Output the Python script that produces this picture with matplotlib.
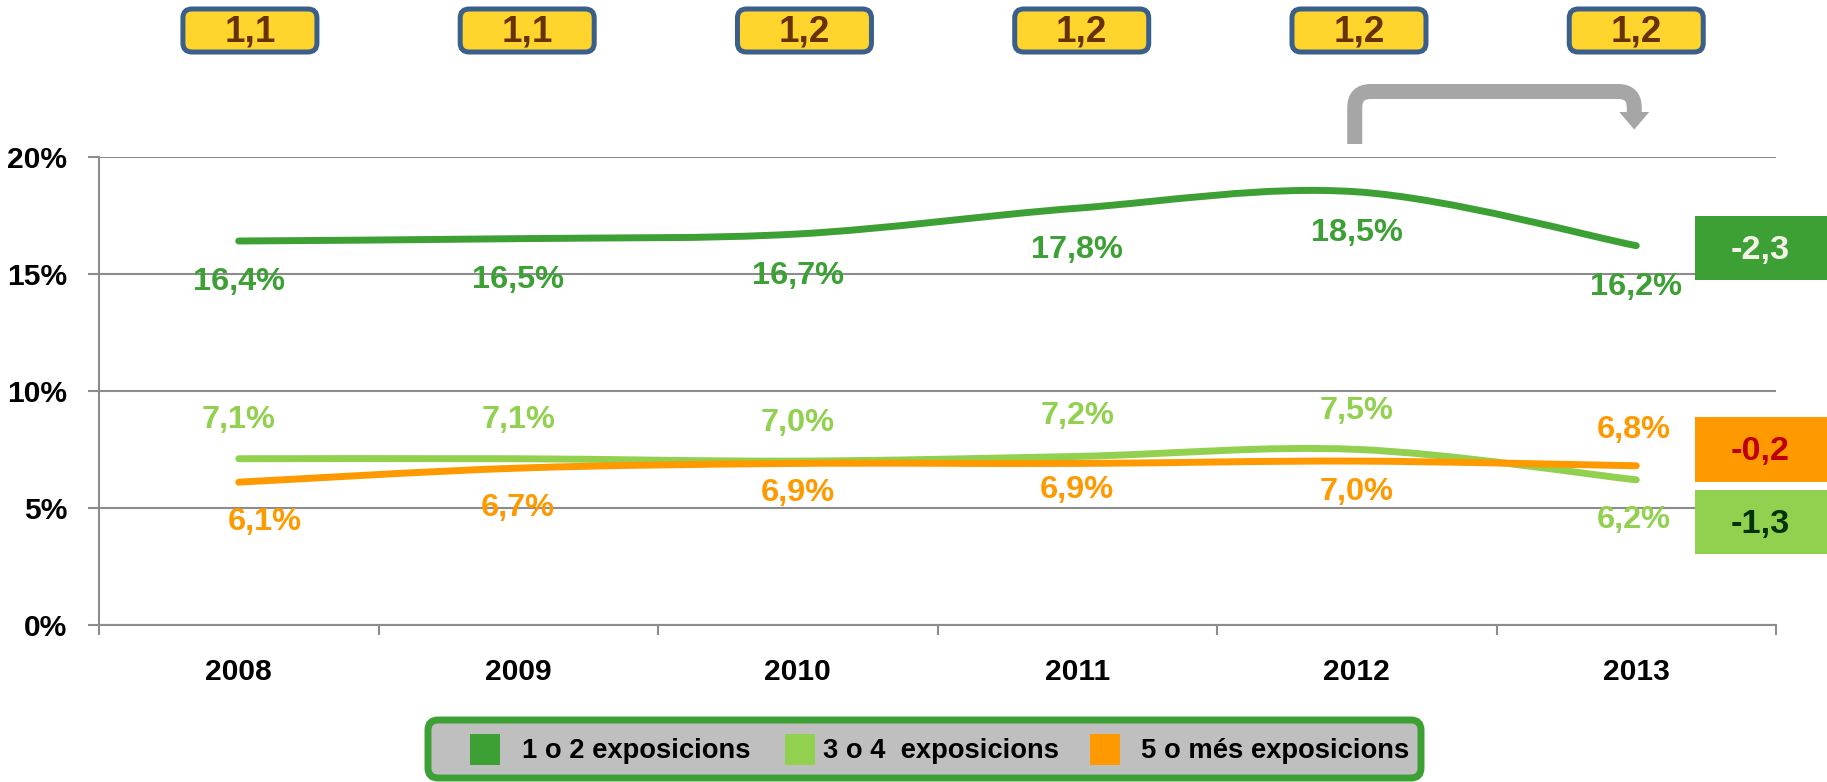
import numpy as np
import matplotlib
matplotlib.use('Agg')
import matplotlib.pyplot as plt
from matplotlib import font_manager
from matplotlib.path import Path
from matplotlib.patches import PathPatch, FancyBboxPatch, Rectangle, Polygon
from matplotlib.transforms import Affine2D

# data
years = ['2008', '2009', '2010', '2011', '2012', '2013']
exp_1_2 = [16.4, 16.5, 16.7, 17.8, 18.5, 16.2]
exp_3_4 = [7.1, 7.1, 7.0, 7.2, 7.5, 6.2]
exp_5_mes = [6.1, 6.7, 6.9, 6.9, 7.0, 6.8]
ratio_top = ['1,1', '1,1', '1,2', '1,2', '1,2', '1,2']
diff_labels = ['-2,3', '-0,2', '-1,3']
series_names = ['1 o 2 exposicions', '3 o 4  exposicions', '5 o més exposicions']

c_dark = '#3DA035'
c_light = '#92D050'
c_orange = '#FF9900'
grid_c = '#8C8C8C'

# narrow font if there is one, else Arial-like Liberation Sans a bit smaller
names = {f.name for f in font_manager.fontManager.ttflist}
if 'Liberation Sans Narrow' in names:
    FONT = ['Liberation Sans Narrow', 'DejaVu Sans']
    k = 1.0
    kl = 1.0
else:
    FONT = ['Liberation Sans', 'DejaVu Sans']
    k = 0.9
    kl = 0.82

# label offsets in pixels (x, y)
off_1 = [(0, -41), (0, -41), (0, -42), (0, -42), (0, -41), (0, -41)]
off_2 = [(0, 39), (0, 39), (0, 38), (0, 40), (0, 38), (-3, -40)]
off_3 = [(26, -40), (0, -40), (0, -30), (0, -27), (0, -31), (-3, 36)]

W, H = 1827, 782
fig = plt.figure(figsize=(W / 100, H / 100), dpi=100)
ax = fig.add_axes([99 / W, 1 - 625 / H, (1776 - 99) / W, (625 - 156.7) / H])
pix = Affine2D().scale(1, -1).translate(0, H)   # top-left pixel coords


def smooth_path(xs, ys, t=1 / 6):
    pts = np.column_stack([xs, ys]).astype(float)
    n = len(pts)
    verts = [pts[0]]
    codes = [Path.MOVETO]
    for i in range(n - 1):
        p0 = pts[max(i - 1, 0)]
        p1 = pts[i]
        p2 = pts[i + 1]
        p3 = pts[min(i + 2, n - 1)]
        verts += [p1 + (p2 - p0) * t, p2 - (p3 - p1) * t, p2]
        codes += [Path.CURVE4] * 3
    return Path(verts, codes)


x = np.arange(len(years))
for vals, col, offs in [(exp_3_4, c_light, off_2), (exp_5_mes, c_orange, off_3), (exp_1_2, c_dark, off_1)]:
    ax.add_patch(PathPatch(smooth_path(x, vals), fill=False, edgecolor=col, lw=5,
                           capstyle='round', joinstyle='round', zorder=3))
    for xi, v, o in zip(x, vals, offs):
        ax.annotate(('%.1f%%' % v).replace('.', ','), (xi, v), xytext=o, textcoords='offset pixels',
                    ha='center', va='center', color=col, fontsize=26 * k, fontweight='bold',
                    family=FONT, zorder=4)

ax.set_xlim(-0.5, 5.5)
ax.set_ylim(0, 20)
ax.set_yticks([0, 5, 10, 15, 20])
ax.set_yticklabels(['0%', '5%', '10%', '15%', '20%'])
ax.set_xticks(np.arange(-0.5, 6, 1))
ax.set_xticklabels([])
ax.set_xticks(x, minor=True)
ax.set_xticklabels(years, minor=True)
ax.tick_params(axis='x', which='major', length=7.2, width=1.5, color=grid_c, direction='out')
ax.tick_params(axis='x', which='minor', length=0, pad=24)
ax.tick_params(axis='y', length=8, width=1.5, color=grid_c, pad=15)
for lab in ax.get_xticklabels(minor=True) + ax.get_yticklabels():
    lab.set_fontsize(24 * k)
    lab.set_fontweight('bold')
    lab.set_family(FONT)
ax.grid(axis='y', color=grid_c, lw=1.5)
ax.set_axisbelow(True)
for s in ['top', 'right']:
    ax.spines[s].set_visible(False)
for s in ['left', 'bottom']:
    ax.spines[s].set_color(grid_c)
    ax.spines[s].set_linewidth(1.5)

# top ratio boxes
box_x = np.linspace(0.04, 5.0, 6)
for bx, txt in zip(box_x, ratio_top):
    cx = ax.transData.transform((bx, 0))[0]
    fig.add_artist(FancyBboxPatch((cx - 67, 9), 134, 43, boxstyle='round,pad=0,rounding_size=9',
                                  fc='#FFD42C', ec='#3A5F8B', lw=3.6, transform=pix))
    fig.text(cx, 32, txt, transform=pix, ha='center', va='center', fontsize=28 * 0.95,
             fontweight='bold', color='#663300', family=FONT)

# arrow 2012 -> 2013
xl = ax.transData.transform((4, 0))[0] - 2
xr = ax.transData.transform((5, 0))[0] - 2
yt, yb, ye, r = 91.5, 144, 113, 16
arr = Path([(xl, yb), (xl, yt + r), (xl, yt), (xl + r, yt), (xr - r, yt), (xr, yt), (xr, yt + r), (xr, ye)],
           [Path.MOVETO, Path.LINETO, Path.CURVE3, Path.CURVE3, Path.LINETO, Path.CURVE3, Path.CURVE3, Path.LINETO])
fig.add_artist(PathPatch(arr, fill=False, ec='#A6A6A6', lw=10.8, capstyle='butt', transform=pix))
fig.add_artist(Polygon([(xr - 15, ye - 1), (xr + 15, ye - 1), (xr, 129.5)], closed=True,
                       fc='#A6A6A6', ec='none', transform=pix))

# right difference boxes
for (top, bot), fc, tc, txt in zip([(216, 280), (417, 482), (490, 554)],
                                   [c_dark, c_orange, c_light],
                                   ['#F2F2E6', '#C00000', '#003300'], diff_labels):
    fig.add_artist(Rectangle((1695, top), 140, bot - top, fc=fc, ec='none', transform=pix))
    fig.text(1760, (top + bot) / 2 + 2, txt, transform=pix, ha='center', va='center',
             fontsize=26 * 0.95, fontweight='bold', color=tc, family=FONT)

# legend
fig.add_artist(FancyBboxPatch((428, 720), 993, 58, boxstyle='round,pad=0,rounding_size=10',
                              fc='#BFBFBF', ec=c_dark, lw=5, transform=pix))
for sx, tx, col, name in zip([470, 785, 1090], [522, 823, 1141], [c_dark, c_light, c_orange], series_names):
    fig.add_artist(Rectangle((sx, 734), 30, 31, fc=col, ec='none', transform=pix))
    fig.text(tx, 751, name, transform=pix, ha='left', va='center', fontsize=24 * kl,
             fontweight='bold', color='black', family=FONT)

fig.savefig('out.png', dpi=100)
